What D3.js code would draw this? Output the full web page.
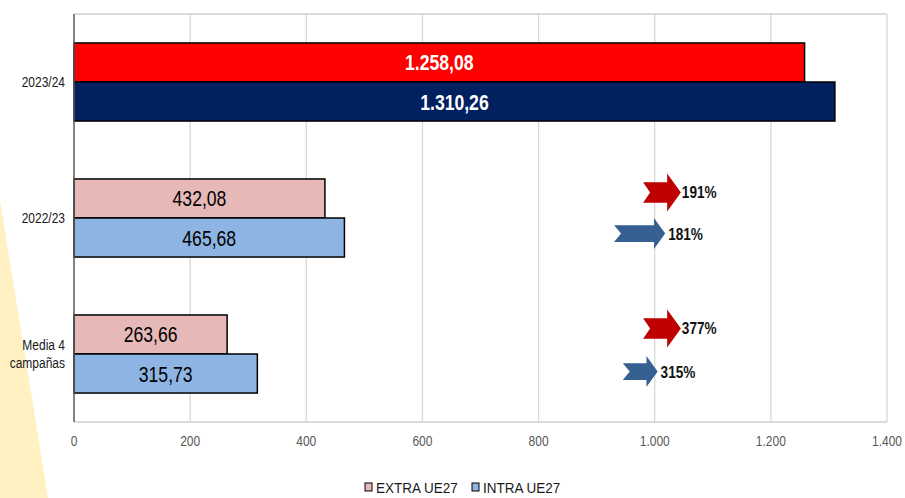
<!DOCTYPE html>
<html>
<head>
<meta charset="utf-8">
<script src="https://cdn.jsdelivr.net/npm/d3@7"></script>
<style>
body{margin:0;background:#fff}
svg{display:block}
</style>
</head>
<body>
<svg></svg>
<script>
var categories=["2023/24","2022/23","Media 4 campañas"]
var extraUE=[1258.08,432.08,263.66]
var intraUE=[1310.26,465.68,315.73]
var extraPct=[null,"191%","377%"]
var intraPct=[null,"181%","315%"]
var ticks=[0,200,400,600,800,1000,1200,1400]
var seriesNames=["EXTRA UE27","INTRA UE27"]

var screen={width:905,height:498}
var plot={left:74,right:887,top:14,bottom:422}
var font="'Liberation Sans Narrow','Arial Narrow','Liberation Sans',Arial,sans-serif"
var squeeze=0.8   // no narrow font installed, so text is squeezed

var svg=d3.select("svg")
  .attr("width",screen.width)
  .attr("height",screen.height)

// places a condensed text
var place=function(sel,fx,fy){
  sel.attr("transform",function(d,i){return "translate("+fx(d,i)+","+fy(d,i)+") scale("+squeeze+",1)"})
}

// yellow decoration on the left
svg.append("polygon")
   .attr("points","0,200 48,498 0,498")
   .attr("fill","#FFF1C1")

var xScale=d3.scaleLinear().domain([0,1400]).range([plot.left,plot.right])
var yScale=d3.scaleBand().domain(categories).range([plot.top,plot.bottom])
   .paddingInner(0.426).paddingOuter(0.213)
var sub=d3.scaleBand().domain(["extra","intra"]).range([0,yScale.bandwidth()])

// grid
svg.selectAll("line.grid")
   .data(ticks.slice(1))
   .enter()
   .append("line")
   .attr("x1",function(d){return xScale(d)})
   .attr("x2",function(d){return xScale(d)})
   .attr("y1",plot.top)
   .attr("y2",plot.bottom)
   .attr("stroke","#D9D9D9")
   .attr("stroke-width",1.3)
svg.append("line").attr("x1",plot.left).attr("x2",plot.right).attr("y1",plot.top).attr("y2",plot.top)
   .attr("stroke","#D0D0D0").attr("stroke-width",1.5)
svg.append("line").attr("x1",plot.left).attr("x2",plot.right).attr("y1",plot.bottom).attr("y2",plot.bottom)
   .attr("stroke","#D0D0D0").attr("stroke-width",1.5)

// x axis labels
svg.selectAll("text.tick")
   .data(ticks)
   .enter()
   .append("text")
   .call(place,function(d){return xScale(d)},function(){return 446})
   .attr("text-anchor","middle")
   .attr("font-family",font)
   .attr("font-size",15)
   .attr("fill","#595959")
   .text(function(d){return d3.format(",")(d).replace(/,/g,".")})

var rows=categories.map(function(c,i){
  return {cat:c,i:i,extra:extraUE[i],intra:intraUE[i]}
})
var fmt=function(v){
  var s=d3.format(",.2f")(v)
  return s.replace(/,/g,"#").replace(".",",").replace(/#/g,".")
}

var colors={
  extra:function(i){return i==0?"#FF0000":"#E6B9B8"},
  intra:function(i){return i==0?"#002060":"#8DB4E2"}
}

;["extra","intra"].forEach(function(key){
  svg.selectAll("rect."+key)
     .data(rows)
     .enter()
     .append("rect")
     .attr("x",xScale(0))
     .attr("y",function(d){return yScale(d.cat)+sub(key)})
     .attr("width",function(d){return xScale(d[key])-xScale(0)})
     .attr("height",sub.bandwidth())
     .attr("fill",function(d){return colors[key](d.i)})
     .attr("stroke","#000")
     .attr("stroke-width",1.5)
  svg.selectAll("text.lab"+key)
     .data(rows)
     .enter()
     .append("text")
     .call(place,function(d){return (xScale(0)+xScale(d[key]))/2},
                 function(d){return yScale(d.cat)+sub(key)+sub.bandwidth()/2+8})
     .attr("text-anchor","middle")
     .attr("font-family",font)
     .attr("font-size",22)
     .attr("font-weight",function(d){return d.i==0?"bold":"normal"})
     .attr("fill",function(d){return d.i==0?"#fff":"#000"})
     .text(function(d){return fmt(d[key])})
})

// left axis line
svg.append("line").attr("x1",plot.left).attr("x2",plot.left).attr("y1",plot.top).attr("y2",plot.bottom)
   .attr("stroke","#595959").attr("stroke-width",1.5)

// category labels
svg.selectAll("text.cat")
   .data(rows)
   .enter()
   .append("text")
   .call(place,function(){return 65},function(d){return yScale(d.cat)+yScale.bandwidth()/2+5})
   .attr("text-anchor","end")
   .attr("font-family",font)
   .attr("font-size",15)
   .attr("fill","#1a1a1a")
   .each(function(d){
     var t=d3.select(this)
     if(d.i==2){
       t.append("tspan").attr("x",0).attr("dy",-9).text("Media 4")
       t.append("tspan").attr("x",0).attr("dy",18).text("campañas")
     } else t.text(d.cat)
   })

// growth arrows
var arrow=function(x0,x1,cy,h,color){
  var head=h*0.36, shaft=h*0.27, notch=7
  var xh=x1-head
  var pts=[[x0,cy-shaft],[xh,cy-shaft],[xh,cy-h/2],[x1,cy],[xh,cy+h/2],[xh,cy+shaft],[x0,cy+shaft],[x0+notch,cy]]
  svg.append("polygon").attr("points",pts.map(function(p){return p.join(",")}).join(" ")).attr("fill",color)
}
var arrows=[]
rows.forEach(function(d){
  if(extraPct[d.i]) arrows.push({pct:extraPct[d.i],cy:yScale(d.cat)+sub("extra")+sub.bandwidth()/2-6,from:980,to:1045,h:38,color:"#C00000"})
  if(intraPct[d.i]) arrows.push({pct:intraPct[d.i],cy:yScale(d.cat)+sub("intra")+sub.bandwidth()/2-(d.i==2?2:4),from:d.i==2?945:930,to:d.i==2?1005:1018,h:31,color:"#376092"})
})
arrows.forEach(function(a){
  arrow(xScale(a.from),xScale(a.to),a.cy,a.h,a.color)
  svg.append("text")
     .attr("transform","translate("+(xScale(a.to)+(a.color=="#C00000"?1:3))+","+(a.cy+6)+") scale("+squeeze+",1)")
     .attr("font-family",font)
     .attr("font-size",17)
     .attr("font-weight","bold")
     .attr("fill","#111")
     .text(a.pct)
})

// legend
var legX=[365,472]
var leg=svg.selectAll("g.leg")
   .data(seriesNames)
   .enter()
   .append("g")
   .attr("transform",function(d,i){return "translate("+legX[i]+",483)"})
leg.append("rect").attr("width",7).attr("height",8)
   .attr("fill",function(d,i){return i==0?"#E6B9B8":"#8DB4E2"})
   .attr("stroke","#000").attr("stroke-width",1)
leg.append("text").attr("transform","translate(11,10) scale(0.9,1)")
   .attr("font-family",font).attr("font-size",15).attr("fill","#1a1a1a")
   .text(function(d){return d})
</script>
</body>
</html>
